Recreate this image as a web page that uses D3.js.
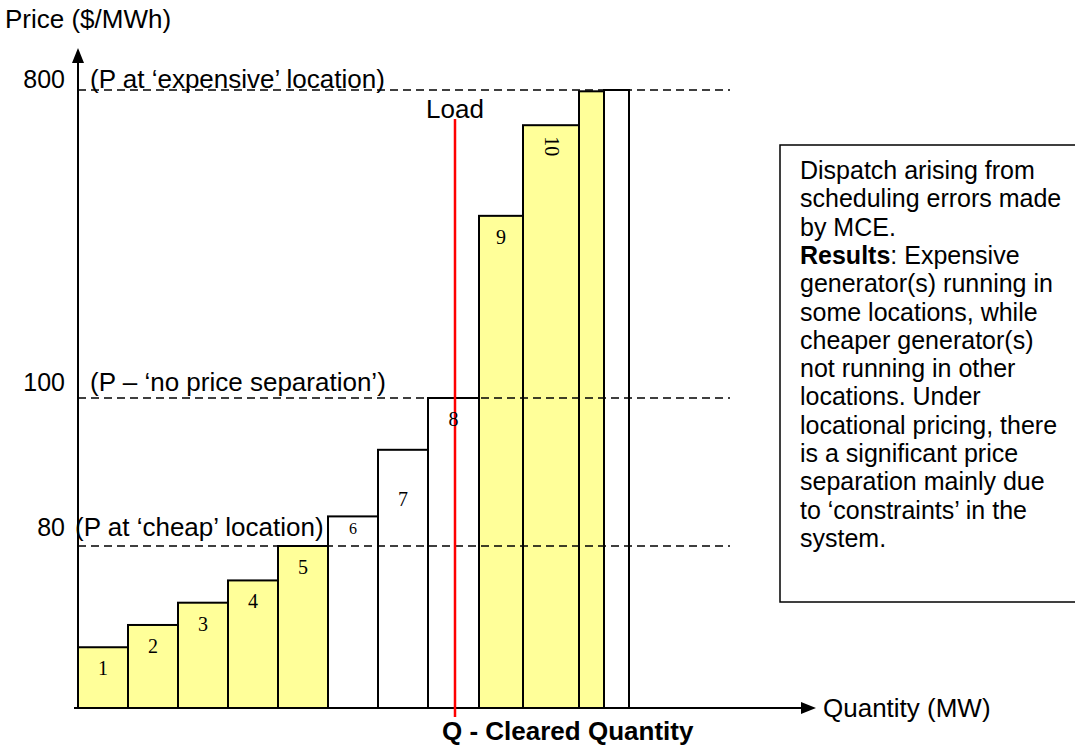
<!DOCTYPE html>
<html>
<head>
<meta charset="utf-8">
<script src="https://cdn.jsdelivr.net/npm/d3@7"></script>
<style>
  body { margin: 0; background: #fff; }
  svg { display: block; }
  text { font-family: "Liberation Sans", Arial, sans-serif; fill: #000; }
</style>
</head>
<body>
<div id="chart"></div>
<script>
// offer stack in merit order (block width in MW, offer price in $/MWh)
var blockLabels = ["1", "2", "3", "4", "5", "6", "7", "8", "9", "10", "", ""];
var blockMW = [50, 50, 50, 50, 50, 50, 50, 51, 44, 56, 25, 25];
var blockPrice = [30, 41, 52, 63, 80, 84, 93, 100, 514, 720, 797, 800];
var dispatched = [true, true, true, true, true, false, false, false, true, true, true, false];

// price levels marked on the axis
var priceLevels = [800, 100, 80];
var priceNotes = ["(P at \u2018expensive\u2019 location)", "(P \u2013 \u2018no price separation\u2019)", "(P at \u2018cheap\u2019 location)"];

var loadMW = 377;

var noteLines = [
  "Dispatch arising from",
  "scheduling errors made",
  "by MCE.",
  "|Results|: Expensive",
  "generator(s) running in",
  "some locations, while",
  "cheaper generator(s)",
  "not running in other",
  "locations. Under",
  "locational pricing, there",
  "is a significant price",
  "separation mainly due",
  "to \u2018constraints\u2019 in the",
  "system."
];

var width = 1075, height = 746;
var fontSize = 26;

var svg = d3.select("#chart")
  .append("svg")
  .attr("width", width)
  .attr("height", height);

// quantity is linear, the price axis is a schematic with breaks at the marked levels
var x = d3.scaleLinear().domain([0, 740]).range([78, 818]);
var y = d3.scaleLinear().domain([0, 80, 100, 800]).range([708, 546, 398, 90]);

var ends = d3.cumsum(blockMW);
var blocks = blockMW.map(function (w, i) {
  return { label: blockLabels[i], q0: ends[i] - w, q1: ends[i], price: blockPrice[i], on: dispatched[i] };
});

// bars
svg.selectAll("rect.block")
  .data(blocks)
  .enter()
  .append("rect")
  .attr("class", "block")
  .attr("x", function (d) { return x(d.q0); })
  .attr("y", function (d) { return y(d.price); })
  .attr("width", function (d) { return x(d.q1) - x(d.q0); })
  .attr("height", function (d) { return y(0) - y(d.price); })
  .attr("fill", function (d) { return d.on ? "#ffff99" : "#ffffff"; })
  .attr("stroke", "#000")
  .attr("stroke-width", 2);

// dashed price levels, drawn over the bars
svg.selectAll("line.level")
  .data(priceLevels)
  .enter()
  .append("line")
  .attr("class", "level")
  .attr("x1", x(0))
  .attr("x2", 730)
  .attr("y1", function (d) { return y(d); })
  .attr("y2", function (d) { return y(d); })
  .attr("stroke", "#000")
  .attr("stroke-width", 1.5)
  .attr("stroke-dasharray", "8,5");

// tick labels and notes sit just above their line
var levelDy = [-2, -7, -10];
var noteX = [90, 90, 75];
svg.selectAll("text.tick")
  .data(priceLevels)
  .enter()
  .append("text")
  .attr("class", "tick")
  .attr("x", 65)
  .attr("y", function (d, i) { return y(d) + levelDy[i]; })
  .attr("text-anchor", "end")
  .style("font-size", "25px")
  .text(function (d) { return d; });

svg.selectAll("text.note")
  .data(priceNotes)
  .enter()
  .append("text")
  .attr("class", "note")
  .attr("x", function (d, i) { return noteX[i]; })
  .attr("y", function (d, i) { return y(priceLevels[i]) + levelDy[i]; })
  .style("font-size", fontSize + "px")
  .text(function (d) { return d; });

// axes with arrow heads
var x0 = x(0), y0 = y(0);
svg.append("line")
  .attr("x1", x0).attr("x2", x0)
  .attr("y1", y0).attr("y2", 60)
  .attr("stroke", "#000").attr("stroke-width", 2);
svg.append("path")
  .attr("d", "M" + x0 + ",48 L" + (x0 - 6) + ",63 L" + (x0 + 6) + ",63 Z")
  .attr("fill", "#000");
svg.append("line")
  .attr("x1", 74).attr("x2", 802)
  .attr("y1", y0).attr("y2", y0)
  .attr("stroke", "#000").attr("stroke-width", 2);
svg.append("path")
  .attr("d", "M816," + y0 + " L801," + (y0 - 6) + " L801," + (y0 + 6) + " Z")
  .attr("fill", "#000");

svg.append("text")
  .attr("x", 5)
  .attr("y", 28)
  .style("font-size", fontSize + "px")
  .text("Price ($/MWh)");

svg.append("text")
  .attr("x", 823)
  .attr("y", 717)
  .style("font-size", fontSize + "px")
  .text("Quantity (MW)");

// load line
var xl = x(loadMW);
svg.append("line")
  .attr("x1", xl).attr("x2", xl)
  .attr("y1", 119).attr("y2", 717)
  .attr("stroke", "#ff0000")
  .attr("stroke-width", 2.5);

svg.append("text")
  .attr("x", xl)
  .attr("y", 118)
  .attr("text-anchor", "middle")
  .style("font-size", fontSize + "px")
  .text("Load");

svg.append("text")
  .attr("x", xl - 13)
  .attr("y", 740)
  .style("font-size", "26px")
  .style("font-weight", "bold")
  .text("Q - Cleared Quantity");

// block numbers (serif, like the original)
var labelTweak = { "6": { dy: 18, size: 16 }, "7": { dy: 56 }, "10": { dy: 11, rotate: true } };
svg.selectAll("text.num")
  .data(blocks.filter(function (d) { return d.label !== ""; }))
  .enter()
  .append("text")
  .attr("class", "num")
  .style("font-family", "\"Liberation Serif\", \"Times New Roman\", serif")
  .style("font-size", function (d) { return ((labelTweak[d.label] || {}).size || 20) + "px"; })
  .attr("text-anchor", function (d) { return (labelTweak[d.label] || {}).rotate ? "start" : "middle"; })
  .attr("transform", function (d) {
    var t = labelTweak[d.label] || {};
    var cx = (x(d.q0) + x(d.q1)) / 2;
    var ty = y(d.price) + (t.dy !== undefined ? t.dy : 28);
    if (t.rotate) return "translate(" + (cx - 6) + "," + ty + ") rotate(90)";
    return "translate(" + cx + "," + ty + ")";
  })
  .text(function (d) { return d.label; });

// explanatory box on the right (runs off the edge in the original)
svg.append("rect")
  .attr("x", 780)
  .attr("y", 145)
  .attr("width", 320)
  .attr("height", 457)
  .attr("fill", "none")
  .attr("stroke", "#000")
  .attr("stroke-width", 1.5);

var note = svg.append("text")
  .attr("x", 800)
  .attr("y", 179)
  .style("font-size", "25px");

noteLines.forEach(function (line, i) {
  var parts = line.split("|");
  parts.forEach(function (p, j) {
    if (p === "") return;
    var ts = note.append("tspan").text(p);
    if (j === 1) ts.style("font-weight", "bold");
    if (j === 0 || (j === 1 && parts[0] === "")) {
      ts.attr("x", 800).attr("y", 179 + i * 28.3);
    }
  });
});
</script>
</body>
</html>
